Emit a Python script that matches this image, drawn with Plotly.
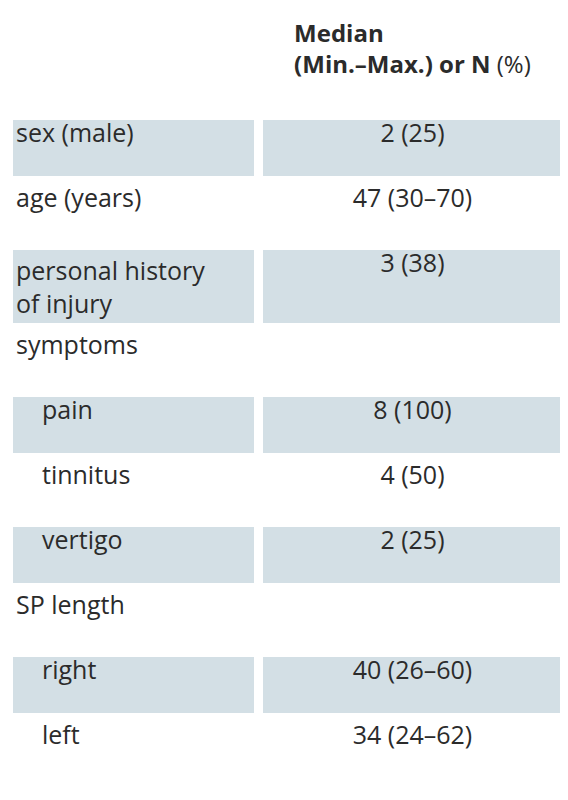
import plotly.graph_objects as go

labels = ["sex (male)", "age (years)", "personal history<br>of injury", "symptoms",
          "\u00a0\u00a0\u00a0\u00a0pain", "\u00a0\u00a0\u00a0\u00a0tinnitus", "\u00a0\u00a0\u00a0\u00a0vertigo",
          "SP length", "\u00a0\u00a0\u00a0\u00a0right", "\u00a0\u00a0\u00a0\u00a0left"]
values = ["2 (25)", "47 (30–70)", "3 (38)", "", "8 (100)", "4 (50)", "2 (25)", "",
          "40 (26–60)", "34 (24–62)"]
shaded = [True, False, True, False, True, False, True, False, True, False]

shade = "#d3dfe5"
fills = [shade if s else "white" for s in shaded]

fig = go.Figure(go.Table(
    columnwidth=[250, 306],
    header=dict(
        values=["", "<b>Median</b><br><b>(Min.–Max.) or N</b> (%)"],
        align=["left", "center"],
        fill_color="white",
        line=dict(color="white", width=9),
        font=dict(family="Open Sans", size=24, color="#2b2b2b"),
        height=107,
    ),
    cells=dict(
        values=[labels, values],
        align=["left", "center"],
        fill_color=[fills, fills],
        line=dict(color="white", width=9),
        font=dict(family="Open Sans", size=25, color="#2b2b2b"),
        height=65,
    ),
))
fig.update_layout(width=568, height=800, margin=dict(l=0, r=10, t=0, b=0),
                  paper_bgcolor="white")
fig.write_html("out.html")
